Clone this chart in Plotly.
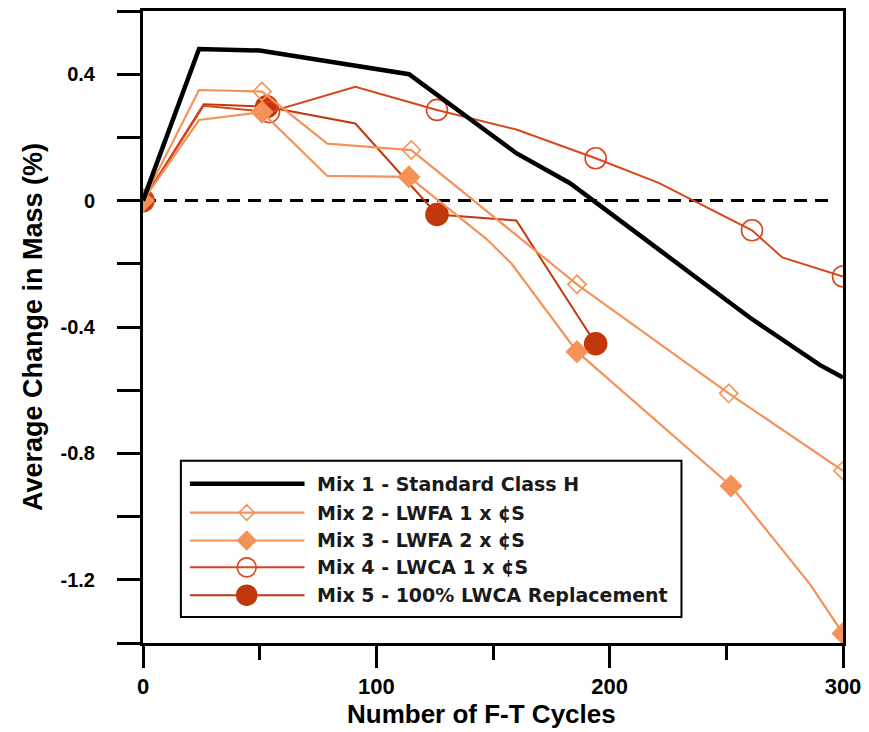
import plotly.graph_objects as go

# ---- data: average change in mass (%) vs number of freeze-thaw cycles ----
mix1_cycles = [0, 24, 50, 114, 160, 183, 222, 260, 290, 300]
mix1_mass = [0, 0.48, 0.475, 0.40, 0.15, 0.055, -0.16, -0.37, -0.52, -0.56]

mix2_cycles = [0, 24, 51, 79, 115, 186, 251, 300]
mix2_mass = [0, 0.35, 0.345, 0.18, 0.16, -0.265, -0.61, -0.855]
mix2_measured = [1, 0, 1, 0, 1, 1, 1, 1]

mix3_cycles = [0, 24, 51, 79, 114, 147, 158, 186, 252, 286, 300]
mix3_mass = [0, 0.255, 0.28, 0.078, 0.075, -0.12, -0.20, -0.478, -0.903, -1.215, -1.37]
mix3_measured = [1, 0, 1, 0, 1, 0, 0, 1, 1, 0, 1]

mix4_cycles = [0, 26, 54, 91, 126, 160, 194, 221, 261, 274, 300]
mix4_mass = [0, 0.30, 0.28, 0.36, 0.287, 0.225, 0.134, 0.056, -0.094, -0.18, -0.24]
mix4_measured = [1, 0, 1, 0, 1, 0, 1, 0, 1, 0, 1]

mix5_cycles = [0, 26, 53, 91, 126, 160, 194]
mix5_mass = [0, 0.305, 0.297, 0.244, -0.044, -0.063, -0.453]
mix5_measured = [1, 0, 1, 0, 1, 0, 1]

series_names = [
    "Mix 1 - Standard Class H",
    "Mix 2 - LWFA 1 x \u00a2S",
    "Mix 3 - LWFA 2 x \u00a2S",
    "Mix 4 - LWCA 1 x \u00a2S",
    "Mix 5 - 100% LWCA Replacement",
]

x_tick_vals = [0, 100, 200, 300]
x_tick_text = ["0", "100", "200", "300"]
y_tick_vals = [0.4, 0, -0.4, -0.8, -1.2]
y_tick_text = ["0.4", "0", "-0.4", "-0.8", "-1.2"]

# ---- styles ----
LIGHT = "#F59259"
MID = "#D8461C"
DARK = "#C0380B"

styles = {
    1: dict(color="black", width=4.5, symbol=None, size=0),
    2: dict(color=LIGHT, width=2.2, symbol="diamond-open", size=14),
    3: dict(color=LIGHT, width=2.2, symbol="diamond", size=16),
    4: dict(color=MID, width=2.0, symbol="circle-open", size=21),
    5: dict(color=DARK, width=2.0, symbol="circle", size=22),
}

data = {
    1: (mix1_cycles, mix1_mass, None),
    2: (mix2_cycles, mix2_mass, mix2_measured),
    3: (mix3_cycles, mix3_mass, mix3_measured),
    4: (mix4_cycles, mix4_mass, mix4_measured),
    5: (mix5_cycles, mix5_mass, mix5_measured),
}

fig = go.Figure()

# draw from Mix 5 up to Mix 1 so the black curve sits on top
for k in [5, 4, 3, 2, 1]:
    xs, ys, meas = data[k]
    st = styles[k]
    fig.add_trace(go.Scatter(
        x=xs, y=ys, mode="lines",
        line=dict(color=st["color"], width=st["width"]),
        showlegend=False, hoverinfo="skip",
    ))
    if meas is not None:
        mx = [x for x, m in zip(xs, meas) if m]
        my = [y for y, m in zip(ys, meas) if m]
        fig.add_trace(go.Scatter(
            x=mx, y=my, mode="markers",
            marker=dict(symbol=st["symbol"], size=st["size"], color=st["color"],
                        line=dict(color=st["color"], width=1.6)),
            showlegend=False, hoverinfo="skip",
        ))

# ---- hand-drawn legend on a pixel-scaled overlay axis ----
LEG_LEFT, LEG_RIGHT, LEG_TOP, LEG_BOTTOM = 181, 683, 460, 617
row_y = [483, 512, 540, 567, 595]
for i, k in enumerate([1, 2, 3, 4, 5]):
    st = styles[k]
    fig.add_trace(go.Scatter(
        x=[190, 305], y=[row_y[i], row_y[i]], mode="lines",
        line=dict(color=st["color"], width=st["width"]),
        xaxis="x2", yaxis="y2", showlegend=False, hoverinfo="skip",
    ))
    if st["symbol"]:
        fig.add_trace(go.Scatter(
            x=[247], y=[row_y[i]], mode="markers",
            marker=dict(symbol=st["symbol"], size=st["size"] - 2, color=st["color"],
                        line=dict(color=st["color"], width=1.6)),
            xaxis="x2", yaxis="y2", showlegend=False, hoverinfo="skip",
        ))
    fig.add_annotation(
        x=315, y=row_y[i], xref="x2", yref="y2", text=series_names[i],
        showarrow=False, xanchor="left", yanchor="middle",
        font=dict(family="DejaVu Sans", size=19, color="#1a1a1a", weight="bold"),
    )

fig.add_shape(type="rect", xref="x2", yref="y2",
              x0=LEG_LEFT, x1=LEG_RIGHT, y0=LEG_TOP, y1=LEG_BOTTOM,
              line=dict(color="black", width=2), fillcolor="white", layer="below")

# dashed zero reference line
fig.add_shape(type="line", xref="x", yref="y", x0=0, x1=296, y0=0, y1=0,
              line=dict(color="black", width=3, dash="13px,8px"), layer="below")

# axis titles
fig.add_annotation(x=0.484, y=-0.139, xref="paper", yref="paper",
                   text="Number of F-T Cycles", showarrow=False,
                   xanchor="center", yanchor="bottom",
                   font=dict(family="Liberation Sans", size=26, color="black", weight="bold"))
fig.add_annotation(x=-0.157, y=0.5, xref="paper", yref="paper",
                   text="Average Change in Mass (%)", showarrow=False, textangle=-90,
                   xanchor="center", yanchor="middle",
                   font=dict(family="Liberation Sans", size=27, color="black", weight="bold"))

fig.update_layout(
    width=869, height=732,
    margin=dict(l=143, r=24, t=8, b=89),
    paper_bgcolor="white", plot_bgcolor="white",
    showlegend=False,
    xaxis=dict(
        range=[0, 300], showgrid=False, zeroline=False,
        showline=True, linecolor="black", linewidth=3, mirror=True,
        tickmode="array", tickvals=x_tick_vals, ticktext=x_tick_text,
        ticks="outside", ticklen=22, tickwidth=3, tickcolor="black",
        minor=dict(dtick=50, tick0=0, ticks="outside", ticklen=14, tickwidth=3, tickcolor="black"),
        tickfont=dict(family="Liberation Sans", size=22, color="black", weight="bold"),
        ticklabelstandoff=0,
    ),
    yaxis=dict(
        range=[-1.4, 0.6], showgrid=False, zeroline=False,
        showline=True, linecolor="black", linewidth=3, mirror=True,
        tickmode="array", tickvals=y_tick_vals, ticktext=y_tick_text,
        ticks="outside", ticklen=23, tickwidth=3, tickcolor="black",
        minor=dict(dtick=0.2, tick0=0, ticks="outside", ticklen=23, tickwidth=3, tickcolor="black"),
        tickfont=dict(family="Liberation Sans", size=20, color="black", weight="bold"),
        ticklabelstandoff=18,
    ),
    xaxis2=dict(range=[143, 845], overlaying="x", anchor="y2", visible=False, fixedrange=True),
    yaxis2=dict(range=[643, 8], overlaying="y", anchor="x2", visible=False, fixedrange=True),
)

fig.write_html("out.html")
